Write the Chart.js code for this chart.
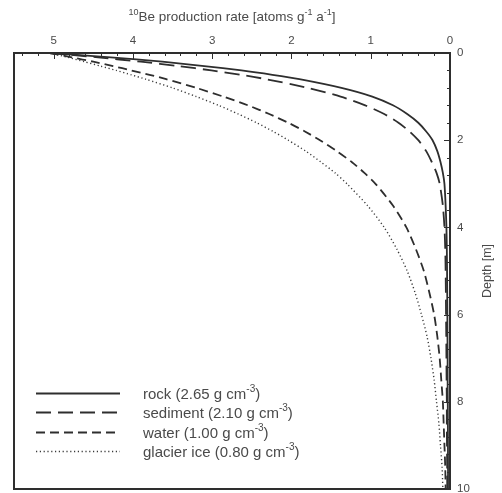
<!DOCTYPE html>
<html>
<head>
<meta charset="utf-8">
<script src="https://cdn.jsdelivr.net/npm/chart.js@4.4.1/dist/chart.umd.min.js"></script>
<style>
  html, body { margin: 0; padding: 0; background: #fff; }
  #wrap { width: 502px; height: 493px; }
</style>
</head>
<body>
<div id="wrap"><canvas id="chart"></canvas></div>
<script>
  const depth = [0, 0.1, 0.2, 0.3, 0.4, 0.5, 0.6, 0.8, 1, 1.2, 1.4, 1.6, 1.8, 2, 2.25, 2.5, 2.75, 3,
    3.5, 4, 4.5, 5, 5.5, 6, 6.5, 7, 7.5, 8, 8.5, 9, 9.5, 10];

  const rock = [5.05, 4.28, 3.63, 3.10, 2.63, 2.24, 1.90, 1.37, 0.98, 0.72, 0.54, 0.40, 0.30, 0.22, 0.16, 0.12, 0.09, 0.07,
    0.055, 0.045, 0.04, 0.037, 0.035, 0.033, 0.032, 0.03, 0.03, 0.028, 0.027, 0.026, 0.025, 0.025];
  const sediment = [5.05, 4.44, 3.90, 3.42, 3.01, 2.64, 2.32, 1.79, 1.38, 1.07, 0.83, 0.65, 0.51, 0.40, 0.30, 0.23, 0.17, 0.13,
    0.09, 0.07, 0.06, 0.055, 0.052, 0.05, 0.047, 0.045, 0.043, 0.04, 0.04, 0.038, 0.036, 0.035];
  const water = [5.05, 4.77, 4.50, 4.25, 4.02, 3.79, 3.58, 3.20, 2.86, 2.55, 2.28, 2.04, 1.83, 1.64, 1.43, 1.24, 1.08, 0.94,
    0.72, 0.55, 0.43, 0.33, 0.26, 0.20, 0.16, 0.13, 0.11, 0.09, 0.08, 0.07, 0.06, 0.055];
  const glacierIce = [5.05, 4.82, 4.61, 4.41, 4.21, 4.02, 3.84, 3.50, 3.20, 2.92, 2.67, 2.44, 2.23, 2.04, 1.82, 1.63, 1.45, 1.30,
    1.04, 0.83, 0.67, 0.54, 0.44, 0.36, 0.29, 0.24, 0.20, 0.17, 0.14, 0.12, 0.10, 0.09];

  // text runs: [text, isSuperscript]
  const seriesLabels = [
    [["rock (2.65 g cm", false], ["-3", true], [")", false]],
    [["sediment (2.10 g cm", false], ["-3", true], [")", false]],
    [["water (1.00 g cm", false], ["-3", true], [")", false]],
    [["glacier ice (0.80 g cm", false], ["-3", true], [")", false]],
  ];
  const xTitle = [["10", true], ["Be production rate [atoms g", false], ["-1", true], [" a", false], ["-1", true], ["]", false]];
  const yTitle = "Depth [m]";

  const ink = "#2e2e2e";
  const textColor = "#4a4a4a";
  const fontFamily = "'Liberation Sans', Arial, sans-serif";

  function toPoints(values) {
    return values.map((v, i) => ({ x: v, y: depth[i] }));
  }

  function line(label, values, dash, width, color) {
    return {
      label: label.map((r) => r[0]).join(""),
      runs: label,
      data: toPoints(values),
      showLine: true,
      borderColor: color,
      borderWidth: width,
      borderDash: dash,
      pointRadius: 0,
      tension: 0.25,
      fill: false,
    };
  }

  function drawRuns(ctx, runs, x, y, size, align) {
    const supSize = Math.round(size * 0.68);
    const fontFor = (sup) => (sup ? supSize : size) + "px " + fontFamily;
    let total = 0;
    runs.forEach(([t, sup]) => {
      ctx.font = fontFor(sup);
      total += ctx.measureText(t).width;
    });
    let cx = align === "center" ? x - total / 2 : x;
    ctx.textAlign = "left";
    ctx.textBaseline = "alphabetic";
    runs.forEach(([t, sup]) => {
      ctx.font = fontFor(sup);
      ctx.fillText(t, cx, sup ? y - size * 0.42 : y);
      cx += ctx.measureText(t).width;
    });
  }

  // frame, inward ticks, titles and the legend inside the plot
  const decorations = {
    id: "decorations",
    afterDatasetsDraw(chart) {
      const ctx = chart.ctx;
      const area = chart.chartArea;
      const xs = chart.scales.x;
      const ys = chart.scales.y;
      ctx.save();

      ctx.strokeStyle = ink;
      ctx.lineWidth = 1;
      for (let i = 1; i <= 27; i++) {
        const px = Math.round(xs.getPixelForValue(i * 0.2)) + 0.5;
        const major = i % 5 === 0;
        ctx.beginPath();
        ctx.moveTo(px, area.top);
        ctx.lineTo(px, area.top + (major ? 6 : 3));
        ctx.stroke();
      }
      for (let i = 1; i < 25; i++) {
        const py = Math.round(ys.getPixelForValue(i * 0.4)) + 0.5;
        const major = i % 5 === 0;
        ctx.beginPath();
        ctx.moveTo(area.right, py);
        ctx.lineTo(area.right - (major ? 6 : 3), py);
        ctx.stroke();
      }

      ctx.lineWidth = 2;
      ctx.strokeRect(area.left, area.top, area.right - area.left, area.bottom - area.top);

      ctx.fillStyle = textColor;
      drawRuns(ctx, xTitle, (area.left + area.right) / 2, 21, 13.5, "center");

      ctx.font = "12.5px " + fontFamily;
      ctx.textAlign = "center";
      ctx.textBaseline = "middle";
      ctx.translate(488, 271);
      ctx.rotate(-Math.PI / 2);
      ctx.fillText(yTitle, 0, 0);
      ctx.setTransform(1, 0, 0, 1, 0, 0);

      chart.data.datasets.forEach((ds, i) => {
        const y = Math.round(393 + i * 19.3) + 0.5;
        ctx.strokeStyle = ds.borderColor;
        ctx.lineWidth = ds.borderWidth;
        ctx.setLineDash(ds.borderDash);
        ctx.beginPath();
        ctx.moveTo(36, y);
        ctx.lineTo(120, y);
        ctx.stroke();
        ctx.setLineDash([]);
        ctx.fillStyle = textColor;
        drawRuns(ctx, ds.runs, 143, y + 5, 15, "left");
      });
      ctx.restore();
    },
  };

  new Chart(document.getElementById("chart"), {
    type: "scatter",
    data: {
      datasets: [
        line(seriesLabels[0], rock, [], 1.8, ink),
        line(seriesLabels[1], sediment, [15, 7], 1.8, ink),
        line(seriesLabels[2], water, [9, 5], 1.8, ink),
        line(seriesLabels[3], glacierIce, [1.2, 2.6], 1.4, "#3a3a3a"),
      ],
    },
    options: {
      responsive: true,
      maintainAspectRatio: false,
      animation: false,
      layout: {
        padding: { left: 14, right: 0, top: 0, bottom: 4 },
      },
      plugins: {
        legend: { display: false },
        tooltip: { enabled: false },
      },
      scales: {
        x: {
          type: "linear",
          position: "top",
          reverse: true,
          min: 0,
          max: 5.5,
          grid: { display: false, drawTicks: false },
          border: { display: false },
          ticks: {
            stepSize: 1,
            padding: 5,
            color: textColor,
            font: { size: 11.5, family: fontFamily },
            callback: (v) => (Number.isInteger(v) ? String(v) : ""),
          },
          afterFit: (scale) => {
            scale.height = 53;
            scale.paddingLeft = 0;
            scale.paddingRight = 0;
          },
        },
        y: {
          type: "linear",
          position: "right",
          reverse: true,
          min: 0,
          max: 10,
          grid: { display: false, drawTicks: false },
          border: { display: false },
          ticks: {
            stepSize: 2,
            padding: 7,
            color: textColor,
            font: { size: 11.5, family: fontFamily },
          },
          afterFit: (scale) => {
            scale.width = 52;
            scale.paddingTop = 0;
            scale.paddingBottom = 0;
          },
        },
      },
    },
    plugins: [decorations],
  });
</script>
</body>
</html>
